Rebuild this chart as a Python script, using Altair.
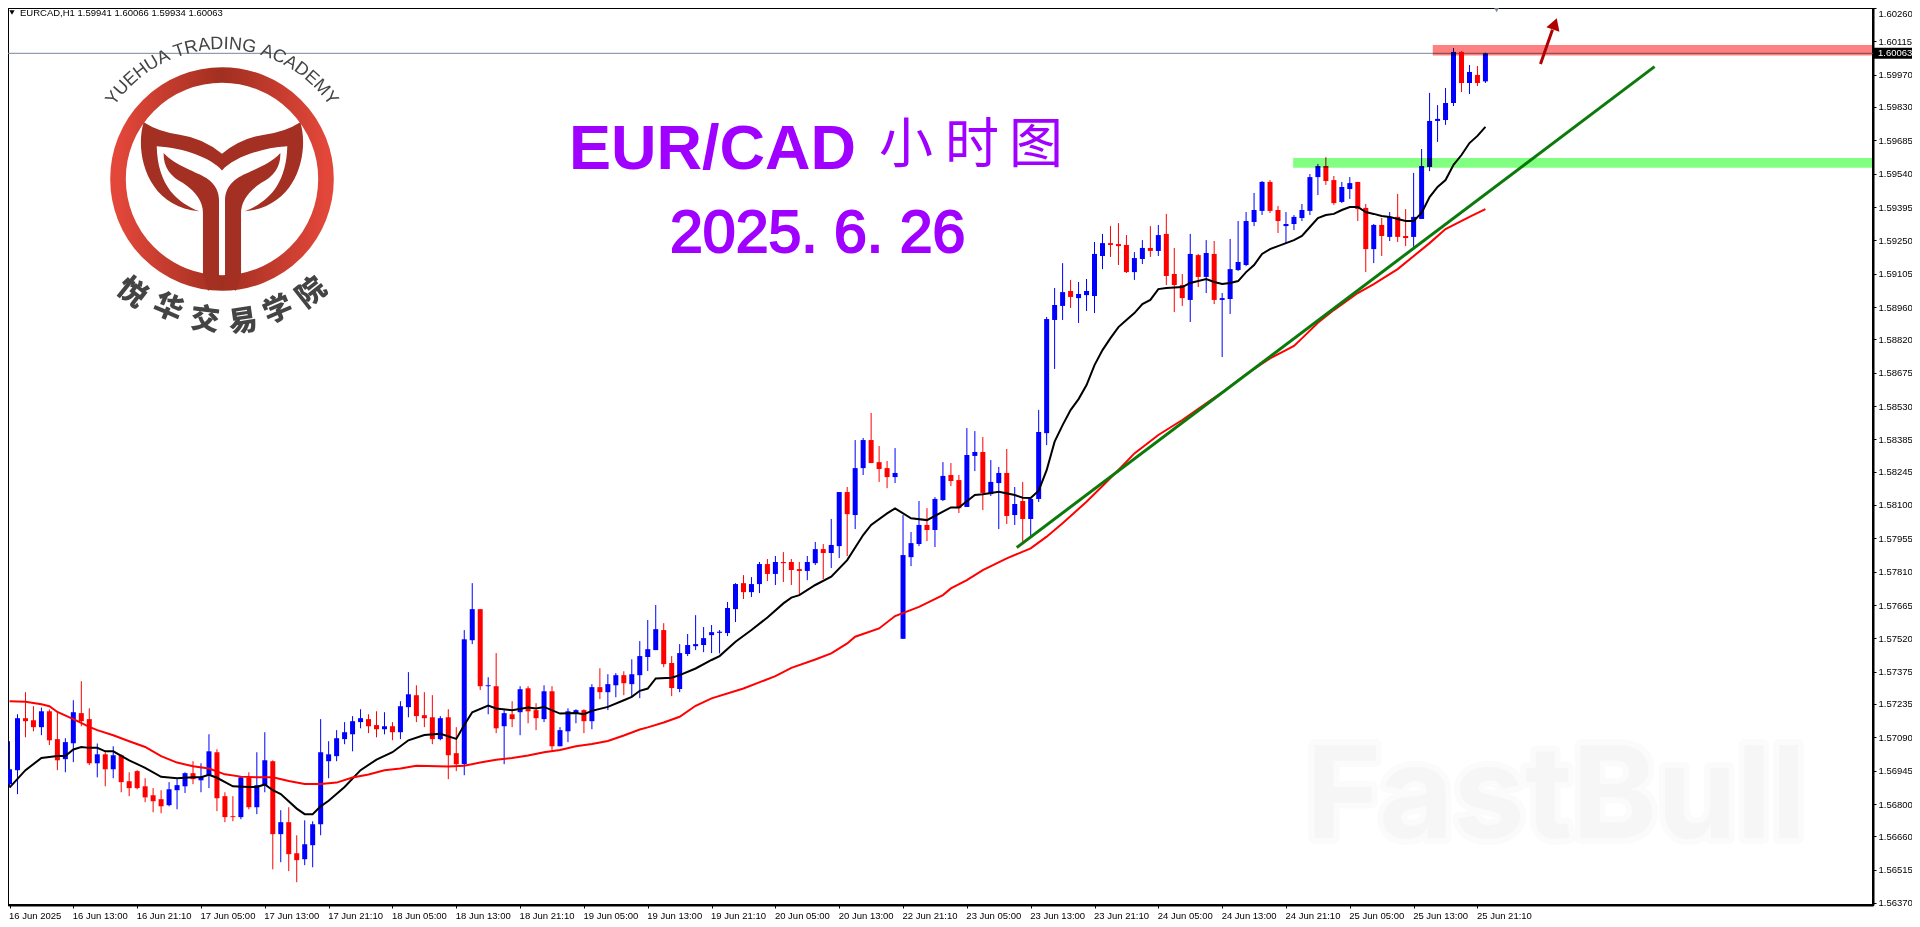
import math
import json
import altair as alt
import pandas as pd

# candles (bar 0 = 16 Jun 2025 first visible bar)
opens = [
    1.56886,1.56947,1.57173,1.57164,1.57134,1.57203,1.57082,1.56995,1.57064,1.57195,
    1.57169,1.56977,1.57016,1.56951,1.57012,1.56899,1.56943,1.56877,1.56838,1.56821,
    1.56795,1.56860,1.56877,1.56934,1.56903,1.56925,1.57025,1.56834,1.56747,1.56743,
    1.56916,1.56786,1.56882,1.56986,1.56669,1.56721,1.56586,1.56560,1.56621,1.56712,
    1.56986,1.57008,1.57082,1.57103,1.57156,1.57169,1.57143,1.57125,1.57138,1.57112,
    1.57221,1.57273,1.57186,1.57177,1.57082,1.57177,1.57021,1.56973,1.57512,1.57647,
    1.57312,1.57312,1.57138,1.57190,1.57199,1.57303,1.57208,1.57169,1.57290,1.57051,
    1.57116,1.57195,1.57208,1.57160,1.57308,1.57286,1.57316,1.57360,1.57321,1.57360,
    1.57439,1.57469,1.57556,1.57413,1.57300,1.57452,1.57486,1.57491,1.57534,1.57544,
    1.57543,1.57647,1.57760,1.57721,1.57756,1.57843,1.57800,1.57852,1.57852,1.57821,
    1.57813,1.57847,1.57908,1.57891,1.57921,1.58156,1.58056,1.58260,1.58382,1.58286,
    1.58260,1.58221,1.57518,1.57873,1.57930,1.58013,1.57991,1.58121,1.58230,1.58208,
    1.58091,1.58313,1.58330,1.58147,1.58195,1.58239,1.58056,1.58117,1.58039,1.58126,
    1.58412,1.58904,1.58965,1.59030,1.58999,1.59012,1.59008,1.59182,1.59238,1.59234,
    1.59230,1.59112,1.59169,1.59217,1.59204,1.59278,1.59104,1.59056,1.58991,1.59186,
    1.59091,1.59191,1.58991,1.58995,1.59121,1.59143,1.59330,1.59378,1.59504,1.59382,
    1.59312,1.59321,1.59347,1.59378,1.59525,1.59573,1.59512,1.59417,1.59473,1.59504,
    1.59391,1.59212,1.59317,1.59265,1.59352,1.59269,1.59265,1.59343,1.59569,1.59769,
    1.59773,1.59847,1.60069,1.59934,1.59969,1.59941]
highs = [
    1.57073,1.57190,1.57286,1.57225,1.57219,1.57211,1.57203,1.57086,1.57251,1.57334,
    1.57216,1.57063,1.57025,1.57051,1.57016,1.56938,1.56947,1.56912,1.56869,1.56860,
    1.56895,1.56908,1.56938,1.56986,1.56977,1.57103,1.57038,1.56851,1.56834,1.56921,
    1.56938,1.57025,1.57112,1.56990,1.56773,1.56786,1.56664,1.56729,1.56725,1.57169,
    1.57073,1.57121,1.57156,1.57182,1.57212,1.57190,1.57203,1.57199,1.57156,1.57247,
    1.57373,1.57316,1.57286,1.57273,1.57182,1.57212,1.57134,1.57556,1.57760,1.57647,
    1.57351,1.57456,1.57208,1.57247,1.57312,1.57312,1.57238,1.57316,1.57312,1.57134,
    1.57216,1.57212,1.57212,1.57321,1.57390,1.57364,1.57369,1.57377,1.57429,1.57508,
    1.57600,1.57665,1.57586,1.57443,1.57495,1.57539,1.57621,1.57569,1.57578,1.57556,
    1.57678,1.57760,1.57795,1.57786,1.57852,1.57865,1.57878,1.57895,1.57865,1.57852,
    1.57878,1.57939,1.57930,1.58039,1.58156,1.58178,1.58382,1.58391,1.58500,1.58356,
    1.58291,1.58347,1.58056,1.57982,1.58117,1.58086,1.58134,1.58286,1.58282,1.58230,
    1.58434,1.58421,1.58395,1.58295,1.58265,1.58343,1.58178,1.58200,1.58130,1.58513,
    1.58917,1.59043,1.59151,1.59078,1.59069,1.59082,1.59243,1.59278,1.59312,1.59325,
    1.59273,1.59199,1.59251,1.59312,1.59317,1.59365,1.59217,1.59104,1.59278,1.59191,
    1.59251,1.59247,1.59021,1.59256,1.59334,1.59373,1.59456,1.59508,1.59512,1.59399,
    1.59373,1.59360,1.59408,1.59538,1.59582,1.59612,1.59530,1.59504,1.59525,1.59504,
    1.59408,1.59321,1.59347,1.59373,1.59452,1.59386,1.59543,1.59647,1.59891,1.59838,
    1.59912,1.60086,1.60073,1.60012,1.60008,1.60066]
lows = [
    1.56874,1.56843,1.57090,1.57116,1.57099,1.57056,1.56947,1.56938,1.56982,1.57138,
    1.56969,1.56916,1.56877,1.56912,1.56851,1.56834,1.56864,1.56808,1.56764,1.56760,
    1.56790,1.56777,1.56848,1.56886,1.56851,1.56869,1.56769,1.56721,1.56725,1.56734,
    1.56777,1.56756,1.56851,1.56516,1.56547,1.56508,1.56460,1.56534,1.56525,1.56664,
    1.56912,1.56986,1.57060,1.57029,1.57129,1.57108,1.57090,1.57103,1.57077,1.57082,
    1.57177,1.57156,1.57134,1.57060,1.57077,1.56908,1.56943,1.56925,1.57495,1.57295,
    1.57190,1.57108,1.56973,1.57134,1.57099,1.57151,1.57121,1.57156,1.57034,1.57051,
    1.57069,1.57151,1.57108,1.57125,1.57256,1.57208,1.57264,1.57273,1.57264,1.57260,
    1.57378,1.57469,1.57395,1.57269,1.57286,1.57443,1.57469,1.57460,1.57456,1.57455,
    1.57530,1.57591,1.57691,1.57700,1.57717,1.57769,1.57752,1.57765,1.57752,1.57708,
    1.57773,1.57839,1.57778,1.57826,1.57869,1.57878,1.57995,1.58230,1.58282,1.58200,
    1.58173,1.58195,1.57518,1.57834,1.57921,1.57943,1.57917,1.58117,1.58182,1.58065,
    1.58091,1.58247,1.58078,1.58139,1.57995,1.58017,1.58013,1.57939,1.57965,1.58113,
    1.58360,1.58691,1.58904,1.58956,1.58891,1.58943,1.58934,1.59125,1.59178,1.59143,
    1.59108,1.59078,1.59147,1.59178,1.59182,1.59056,1.58938,1.58965,1.58895,1.59047,
    1.59021,1.58973,1.58743,1.58930,1.59117,1.59138,1.59312,1.59360,1.59369,1.59282,
    1.59238,1.59295,1.59334,1.59360,1.59447,1.59491,1.59404,1.59412,1.59430,1.59334,
    1.59112,1.59151,1.59182,1.59247,1.59243,1.59225,1.59221,1.59343,1.59551,1.59678,
    1.59752,1.59834,1.59895,1.59886,1.59921,1.59934]
closes = [
    1.56951,1.57173,1.57160,1.57134,1.57203,1.57077,1.56990,1.57069,1.57199,1.57160,
    1.56977,1.57016,1.56951,1.57012,1.56895,1.56869,1.56869,1.56829,1.56812,1.56790,
    1.56864,1.56882,1.56934,1.56908,1.56918,1.57029,1.56825,1.56743,1.56743,1.56916,
    1.56786,1.56882,1.56990,1.56669,1.56721,1.56582,1.56556,1.56625,1.56712,1.57025,
    1.57016,1.57086,1.57112,1.57160,1.57173,1.57138,1.57125,1.57138,1.57112,1.57225,
    1.57277,1.57182,1.57173,1.57082,1.57173,1.57012,1.56973,1.57516,1.57647,1.57312,
    1.57316,1.57129,1.57195,1.57169,1.57299,1.57203,1.57173,1.57290,1.57051,1.57121,
    1.57203,1.57208,1.57160,1.57308,1.57286,1.57321,1.57360,1.57325,1.57364,1.57443,
    1.57473,1.57560,1.57408,1.57304,1.57456,1.57491,1.57495,1.57521,1.57547,1.57549,
    1.57652,1.57756,1.57721,1.57756,1.57843,1.57800,1.57852,1.57847,1.57817,1.57813,
    1.57852,1.57908,1.57891,1.57926,1.58156,1.58060,1.58260,1.58382,1.58282,1.58256,
    1.58221,1.58239,1.57882,1.57934,1.58013,1.57991,1.58126,1.58226,1.58204,1.58086,
    1.58317,1.58330,1.58152,1.58200,1.58239,1.58052,1.58104,1.58039,1.58126,1.58417,
    1.58908,1.58969,1.59025,1.59004,1.59017,1.59030,1.59191,1.59238,1.59230,1.59225,
    1.59112,1.59173,1.59217,1.59204,1.59273,1.59095,1.59056,1.58999,1.59191,1.59091,
    1.59195,1.58991,1.58999,1.59125,1.59156,1.59334,1.59382,1.59504,1.59378,1.59334,
    1.59321,1.59352,1.59382,1.59525,1.59573,1.59508,1.59412,1.59482,1.59499,1.59386,
    1.59212,1.59317,1.59269,1.59352,1.59265,1.59260,1.59352,1.59573,1.59769,1.59778,
    1.59847,1.60069,1.59934,1.59982,1.59934,1.60063]

# the two moving averages, read at the bars where the line bends
ma_fast_bar = [0,2,4,6,7,8,9,10,11,12,13,15,17,19,21,23,24,25,26,28,30,31,32,33,34,36,37,38,39,40,
    42,44,46,48,50,52,54,56,57,58,60,61,63,65,66,67,69,71,72,73,75,77,78,79,
    80,81,83,84,86,88,89,91,93,95,97,98,99,101,103,105,107,108,110,111,113,115,117,118,119,121,122,124,126,127,128,129,
    130,131,132,133,134,135,136,137,138,139,140,141,142,143,144,145,147,148,150,151,152,153,154,155,156,157,158,159,160,
    161,162,163,164,165,166,167,168,169,170,171,172,173,174,175,176,177,178,179,180,181,182,183,184,185]
ma_fast = [1.56871,1.56947,1.57000,1.57009,1.57009,1.57037,1.57048,1.57044,1.57044,1.57029,1.57029,1.56990,1.56957,
    1.56918,1.56912,1.56916,1.56916,1.56927,1.56914,1.56877,1.56874,1.56874,1.56885,1.56860,1.56843,1.56780,1.56756,
    1.56756,1.56790,1.56814,1.56874,1.56947,1.56993,1.57025,1.57077,1.57100,1.57105,1.57083,1.57143,1.57199,1.57228,
    1.57215,1.57208,1.57219,1.57215,1.57222,1.57193,1.57196,1.57190,1.57205,1.57222,1.57251,1.57266,1.57292,
    1.57302,1.57346,1.57349,1.57360,1.57389,1.57426,1.57443,1.57505,1.57556,1.57611,1.57672,1.57697,1.57708,1.57752,
    1.57788,1.57860,1.57969,1.58013,1.58063,1.58085,1.58042,1.58034,1.58071,1.58089,1.58089,1.58143,1.58146,1.58157,
    1.58143,1.58131,1.58130,1.58162,
    1.58251,1.58375,1.58447,1.58512,1.58560,1.58621,1.58708,1.58773,1.58825,1.58873,1.58904,1.58934,1.58973,1.58991,
    1.59038,1.59043,1.59047,1.59065,1.59082,1.59069,1.59060,1.59065,1.59073,1.59112,1.59143,1.59191,1.59212,1.59225,
    1.59238,1.59251,1.59269,1.59308,1.59347,1.59360,1.59365,1.59382,1.59395,1.59395,1.59373,1.59365,1.59356,1.59352,
    1.59343,1.59334,1.59334,1.59369,1.59438,1.59482,1.59512,1.59578,1.59621,1.59673,1.59704,1.59743]
ma_slow_bar = [0,2,4,5,6,8,10,11,13,15,17,19,21,23,25,27,29,31,33,35,37,39,41,43,45,47,49,51,55,57,59,61,63,65,67,69,
    71,73,75,77,79,80,82,84,86,88,92,96,98,101,103,105,106,109,111,114,117,118,120,122,125,128,130,132,135,137,139,141,
    144,147,150,152,155,158,160,161,162,164,166,169,171,174,178,180,183,185]
ma_slow = [1.57247,1.57244,1.57234,1.57225,1.57200,1.57169,1.57135,1.57121,1.57099,1.57073,1.57048,1.57008,1.56980,
    1.56964,1.56954,1.56929,1.56919,1.56916,1.56916,1.56900,1.56887,1.56887,1.56893,1.56915,1.56928,1.56947,1.56954,
    1.56966,1.56963,1.56966,1.56980,1.56992,1.57000,1.57011,1.57025,1.57035,1.57051,1.57061,1.57074,1.57098,1.57124,
    1.57133,1.57154,1.57179,1.57227,1.57259,1.57302,1.57356,1.57392,1.57428,1.57455,1.57498,1.57527,1.57563,1.57617,
    1.57657,1.57708,1.57737,1.57773,1.57817,1.57868,1.57911,1.57962,1.58020,1.58114,1.58182,1.58252,1.58324,1.58404,
    1.58469,1.58542,1.58589,1.58668,1.58737,1.58773,1.58791,1.58824,1.58892,1.58947,1.59021,1.59060,1.59125,1.59238,
    1.59299,1.59352,1.59386]

y_ticks = [1.60260,1.60115,1.59970,1.59830,1.59685,1.59540,1.59395,1.59250,1.59105,1.58960,1.58820,1.58675,1.58530,
    1.58385,1.58245,1.58100,1.57955,1.57810,1.57665,1.57520,1.57375,1.57235,1.57090,1.56945,1.56800,1.56660,1.56515,1.56370]
x_labels = ['16 Jun 2025','16 Jun 13:00','16 Jun 21:10','17 Jun 05:00','17 Jun 13:00','17 Jun 21:10','18 Jun 05:00',
    '18 Jun 13:00','18 Jun 21:10','19 Jun 05:00','19 Jun 13:00','19 Jun 21:10','20 Jun 05:00','20 Jun 13:00',
    '22 Jun 21:10','23 Jun 05:00','23 Jun 13:00','23 Jun 21:10','24 Jun 05:00','24 Jun 13:00','24 Jun 21:10',
    '25 Jun 05:00','25 Jun 13:00','25 Jun 21:10']
x_ticks = [8 * k for k in range(len(x_labels))]

last_price = 1.60063
resist_zone = [1.60053, 1.60099]
resist_from = 178.4
support_zone = [1.59566, 1.59608]
support_from = 160.9
trend_bar = [126.25, 206.2]
trend_price = [1.57915, 1.60005]
arrow_bar = [191.9, 193.4]
arrow_price = [1.60017, 1.60165]
arrow_tip = (193.7, 1.60191)

XMIN, XMAX = -0.19, 233.58
YMIN, YMAX = 1.56361, 1.60260
FONT = 'Liberation Sans'
CJK = 'Noto Sans CJK SC'
PURPLE = '#9F00FF'

df = pd.DataFrame({'i': range(len(opens)), 'o': opens, 'h': highs, 'l': lows, 'c': closes})
df['dir'] = ['up' if c >= o else 'down' for o, c in zip(opens, closes)]
one = pd.DataFrame({'a': [0]})

label_expr = json.dumps(x_labels) + '[round(datum.value/8)]'
# padding=0: bars on a continuous x would otherwise pull the range in by their width
x_scale = alt.Scale(domain=[XMIN, XMAX], nice=False, zero=False, padding=0)
y_scale = alt.Scale(domain=[YMIN, YMAX], nice=False, zero=False)
x_axis = alt.Axis(title=None, values=x_ticks, labelExpr=label_expr, labelAngle=0, labelAlign='left', labelBaseline='top',
    labelOffset=-1, labelPadding=2, labelFontSize=9.5, labelFont=FONT, labelColor='black', labelOverlap=False,
    labelFlush=False, labelBound=False, tickSize=3, tickColor='black', domainColor='black', domainWidth=2, grid=False)
y_axis = alt.Axis(title=None, orient='right', values=y_ticks, format='.5f', labelPadding=2, labelFontSize=9.5, labelFont=FONT,
    labelColor='black', labelOverlap=False, labelFlush=True, labelBound=False, tickSize=3, tickColor='black',
    domainColor='black', domainWidth=2, grid=False)
x_enc = alt.X('i:Q', scale=x_scale, axis=x_axis)
y_enc = alt.Y('p:Q', scale=y_scale, axis=y_axis)
dir_color = alt.Color('dir:N', scale=alt.Scale(domain=['up', 'down'], range=['#0000FF', '#FF0000']), legend=None)


def text_at(txt, x, y, **kw):
    kw.setdefault('font', FONT)
    kw.setdefault('align', 'left')
    kw.setdefault('baseline', 'alphabetic')
    return alt.Chart(one).mark_text(text=txt, **kw).encode(x=alt.value(x), y=alt.value(y))


def series(xs, ys):
    return pd.DataFrame({'i': xs, 'p': ys})


# faint watermark lies under everything
mark_glow = text_at('FastBull', 1298, 830, font='Inter', fontSize=128, fontWeight=700, color='#FBFBFB',
    stroke='#FBFBFB', strokeWidth=12, strokeJoin='round')
mark_front = text_at('FastBull', 1298, 830, font='Inter', fontSize=128, fontWeight=700, color='#F6F6F6')

price_line = alt.Chart(series([XMIN, XMAX], [last_price, last_price])).mark_line(color='#778899', strokeWidth=1).encode(x=x_enc, y=y_enc)

wicks = alt.Chart(df).mark_rule(strokeWidth=1).encode(
    x=x_enc, y=alt.Y('l:Q', scale=y_scale, axis=y_axis), y2='h:Q', color=dir_color)
bodies = alt.Chart(df).mark_bar(size=5).encode(
    x=x_enc, y=alt.Y('o:Q', scale=y_scale, axis=y_axis), y2='c:Q', color=dir_color)

fast_line = alt.Chart(series(ma_fast_bar, ma_fast)).mark_line(color='black', strokeWidth=2).encode(x=x_enc, y=y_enc)
slow_line = alt.Chart(series(ma_slow_bar, ma_slow)).mark_line(color='#FF0000', strokeWidth=2).encode(x=x_enc, y=y_enc)
trend_line = alt.Chart(series(trend_bar, trend_price)).mark_line(color='#0B7A0B', strokeWidth=3).encode(x=x_enc, y=y_enc)

arrow_shaft = alt.Chart(series(arrow_bar, arrow_price)).mark_line(color='#B00000', strokeWidth=3).encode(x=x_enc, y=y_enc)
arrow_head = alt.Chart(series([arrow_tip[0]], [arrow_tip[1]])).mark_point(
    shape='triangle-up', size=190, filled=True, opacity=1, color='#B00000', angle=19).encode(x=x_enc, y=y_enc)
shift_marker = alt.Chart(series([186.4], [1.60252])).mark_point(
    shape='triangle-down', size=28, filled=True, opacity=1, color='#778899').encode(x=x_enc, y=y_enc)

zones = pd.DataFrame({'i': [resist_from, support_from], 'i2': [XMAX, XMAX],
    'p': [resist_zone[0], support_zone[0]], 'p2': [resist_zone[1], support_zone[1]],
    'fill': ['#FF8080', '#80FF80']})
zone_rects = alt.Chart(zones).mark_rect(blend='multiply').encode(
    x=x_enc, x2='i2:Q', y=y_enc, y2='p2:Q', color=alt.Color('fill:N', scale=None))

tag_bg = alt.Chart(series([0], [last_price])).mark_rect(color='black', width=38, height=11).encode(
    x=alt.value(1885), y=y_enc)
tag_text = alt.Chart(series([0], [last_price])).mark_text(text='1.60063', color='white', font=FONT, fontSize=9.5, align='left').encode(
    x=alt.value(1870), y=y_enc)

header_tri = alt.Chart(one).mark_point(shape='triangle-down', size=28, filled=True, opacity=1, color='black').encode(
    x=alt.value(4), y=alt.value(4.5))
header = text_at('EURCAD,H1  1.59941 1.60066 1.59934 1.60063', 12, 4.5, baseline='middle', fontSize=9.5, color='black')

title_pair = text_at('EUR/CAD', 561, 161, fontSize=63, fontWeight='bold', color=PURPLE)
title_cjk = [text_at(ch, x, 139, font=CJK, fontSize=54, align='center', baseline='middle', color=PURPLE)
    for ch, x in zip('小时图', [898, 964, 1028])]
date_text = text_at('2025. 6. 26', 662, 244, fontSize=59, color=PURPLE, stroke=PURPLE, strokeWidth=2)

# logo: ring, tail shape, curved texts
LX, LY = 214, 171
ring_fill = alt.LinearGradient(gradient='linear', x1=0, x2=1, y1=0, y2=0, stops=[
    alt.GradientStop(offset=0, color='#E2473A'), alt.GradientStop(offset=0.5, color='#A12F20'),
    alt.GradientStop(offset=1, color='#E2473A')])
ring = alt.Chart(one).mark_point(shape='circle', filled=False, size=208 ** 2, strokeWidth=15.6, opacity=1, stroke=ring_fill).encode(
    x=alt.value(LX), y=alt.value(LY))
tail_path = ('M-.699 -.506Q-.56 -.417 -.378 -.396Q-.17 -.366 0 -.226Q.17 -.366 .378 -.396Q.56 -.417 .699 -.506'
    'C.78 -.25 .68 .25 .202 .289C.396 .214 .574 .065 .583 -.292C.336 -.277 .098 -.188 0 -.077'
    'C-.098 -.188 -.336 -.277 -.583 -.292C-.574 .065 -.396 .214 -.202 .289C-.68 .25 -.78 -.25 -.699 -.506Z'
    'M-.521 -.232C-.42 -.12 -.22 -.06 -.14 -.009C-.051 .051 -.027 .125 -.027 .185L-.027 .899Q-.05 .973 -.125 .997'
    'L-.17 .845L-.17 .304Q-.17 .155 -.348 .036Q-.527 -.054 -.521 -.232Z'
    'M.521 -.232C.42 -.12 .22 -.06 .14 -.009C.051 .051 .027 .125 .027 .185L.027 .899Q.05 .973 .125 .997'
    'L.17 .845L.17 .304Q.17 .155 .348 .036Q.527 -.054 .521 -.232Z')
tail = alt.Chart(one).mark_point(shape=tail_path, filled=True, size=224 ** 2, opacity=1, color='#A33022').encode(
    x=alt.value(LX), y=alt.value(LY))

arc_text = 'YUEHUA TRADING ACADEMY'
glyph_w = {'Y': .667, 'U': .722, 'E': .667, 'H': .722, 'A': .667, ' ': .278, 'T': .611, 'R': .722, 'D': .722, 'I': .278,
    'N': .722, 'G': .778, 'C': .722, 'M': .833}
total_w = sum(glyph_w[ch] for ch in arc_text)
rows = []
run = 0
for ch in arc_text:
    mid = run + glyph_w[ch] / 2
    run += glyph_w[ch]
    deg = -56 + 112 * mid / total_w
    rows.append({'ch': ch, 'x': LX + 135 * math.sin(math.radians(deg)), 'y': LY - 135 * math.cos(math.radians(deg)), 'a': deg % 360})
arc_df = pd.DataFrame(rows)
arc_marks = alt.Chart(arc_df).mark_text(font=FONT, fontSize=18, color='#444444', baseline='middle', align='center').encode(
    x=alt.X('x:Q', scale=None), y=alt.Y('y:Q', scale=None), text='ch:N', angle=alt.Angle('a:Q', scale=None))

cn_name = '悦华交易学院'
cn_x = [123.7, 160, 197, 235, 270, 303.7]
cn_y = [284.7, 300, 312, 313.7, 302, 285]
cn_df = pd.DataFrame({'ch': list(cn_name), 'x': cn_x, 'y': cn_y,
    'a': [math.degrees(math.atan2(LX - x, y - LY)) % 360 for x, y in zip(cn_x, cn_y)]})
cn_marks = alt.Chart(cn_df).mark_text(font=CJK, fontSize=29, fontWeight=900, color='#444444', baseline='middle', align='center').encode(
    x=alt.X('x:Q', scale=None), y=alt.Y('y:Q', scale=None), text='ch:N', angle=alt.Angle('a:Q', scale=None))

chart = alt.layer(
    mark_glow, mark_front, price_line, wicks, bodies, fast_line, slow_line, trend_line, zone_rects,
    arrow_shaft, arrow_head, shift_marker, tag_bg, tag_text, header_tri, header,
    title_pair, *title_cjk, date_text, ring, tail, arc_marks, cn_marks
).resolve_scale(x='shared', y='shared').properties(
    width=1865, height=897, background='white',
    autosize=alt.AutoSizeParams(type='none'),
    padding={'left': 0, 'top': 0, 'right': 39, 'bottom': 14}
).configure_view(stroke='black', strokeWidth=2)

chart.save("out.html", embed_options={"renderer": "svg", "actions": False})
